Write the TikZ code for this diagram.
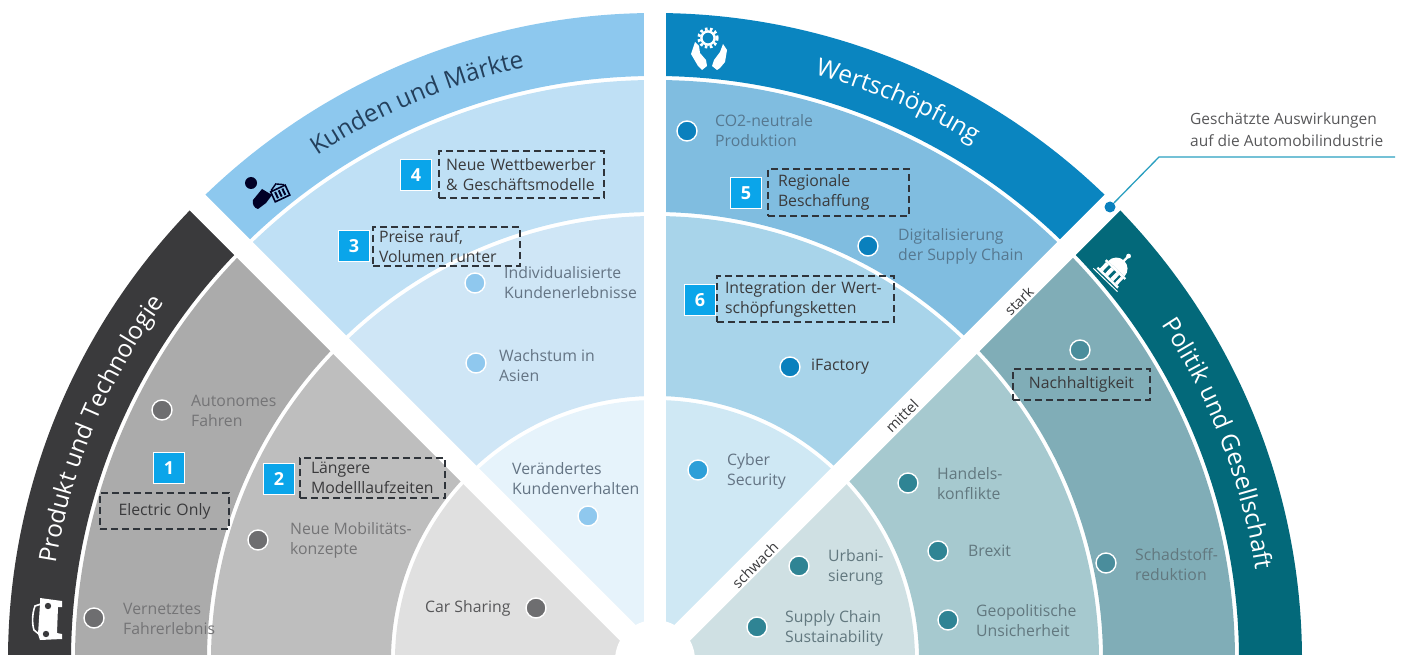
\documentclass[tikz,border=0pt]{standalone}
\usepackage{fontspec}
\setmainfont{Open Sans}
\usetikzlibrary{decorations.text}
\definecolor{bandA}{HTML}{3A3A3C}\definecolor{ringA1}{HTML}{ABABAB}\definecolor{ringA2}{HTML}{BEBEBE}\definecolor{ringA3}{HTML}{E0E0E0}
\definecolor{bandB}{HTML}{8DC8EE}\definecolor{ringB1}{HTML}{BFE0F5}\definecolor{ringB2}{HTML}{CFE6F6}\definecolor{ringB3}{HTML}{E6F3FB}
\definecolor{bandC}{HTML}{0A85C0}\definecolor{ringC1}{HTML}{80BDE0}\definecolor{ringC2}{HTML}{A8D4EA}\definecolor{ringC3}{HTML}{CFE8F4}
\definecolor{bandD}{HTML}{03697A}\definecolor{ringD1}{HTML}{80ADB7}\definecolor{ringD2}{HTML}{A6C9CF}\definecolor{ringD3}{HTML}{CFE0E3}
\definecolor{numblue}{HTML}{0AA5EA}\definecolor{boxline}{HTML}{2F343A}
\definecolor{txtA}{HTML}{747476}\definecolor{txtB}{HTML}{647484}\definecolor{txtC}{HTML}{567890}\definecolor{txtD}{HTML}{62787F}
\definecolor{dotA}{HTML}{6E6E70}\definecolor{dotB}{HTML}{8FC8EE}\definecolor{dotC}{HTML}{0A80BD}\definecolor{dotCy}{HTML}{2D9FD8}\definecolor{dotD}{HTML}{2F8494}\definecolor{dotE}{HTML}{4A8D9C}
\definecolor{calloutc}{HTML}{2A9FC0}\definecolor{titleB}{HTML}{24405C}
\newcommand{\widesector}[5]{%
  \fill[#5] (#1:#3) arc[start angle=#1,end angle=#2,radius=#3] -- (#2:#4) arc[start angle=#2,end angle=#1,radius=#4] -- cycle;}
\tikzset{
  lbl/.style={anchor=west,inner sep=0pt,align=left,font=\fontsize{15.8}{20}\selectfont,text=#1},
  dotn/.style={circle,fill=#1,draw=white,line width=1.4pt,minimum size=20pt,inner sep=0pt},
  numbox/.style={fill=numblue,draw=white,line width=1pt,minimum size=31pt,inner sep=0pt,text=white,font=\fontsize{18}{20}\bfseries\selectfont},
  dbox/.style n args={3}{draw=boxline,dash pattern=on 7pt off 4pt,line width=1.8pt,text width=#1pt,minimum height=#2pt,inner xsep=#3pt,inner ysep=0pt,align=left,text=bandA,font=\fontsize{15.8}{20}\selectfont},
  gaplbl/.style={rotate=45,inner sep=0pt,text=bandA,font=\fontsize{14.5}{16}\selectfont},
  titlepath/.style={postaction={decorate},decoration={text along path,text align=center,text={|\fontsize{24.4}{25}\selectfont\color{#1}|\titletext}}}
}
\begin{document}
\begin{tikzpicture}[x=1pt,y=-1pt]
\useasboundingbox (0,0) rectangle (1403,655);
\clip (0,0) rectangle (1403,655);
\begin{scope}[shift={(655,660)}]
  \widesector{170}{225}{647}{584}{bandA}
  \widesector{170}{225}{580}{448}{ringA1}
  \widesector{170}{225}{444}{264}{ringA2}
  \widesector{170}{225}{260}{30}{ringA3}
  \widesector{225}{270}{647}{584}{bandB}
  \widesector{225}{270}{580}{448}{ringB1}
  \widesector{225}{270}{444}{264}{ringB2}
  \widesector{225}{270}{260}{30}{ringB3}
  \widesector{270}{315}{647}{584}{bandC}
  \widesector{270}{315}{580}{448}{ringC1}
  \widesector{270}{315}{444}{264}{ringC2}
  \widesector{270}{315}{260}{30}{ringC3}
  \widesector{315}{370}{647}{584}{bandD}
  \widesector{315}{370}{580}{448}{ringD1}
  \widesector{315}{370}{444}{264}{ringD2}
  \widesector{315}{370}{260}{30}{ringD3}
  \draw[white,line width=22pt] (0,0) -- (225:700);
  \draw[white,line width=22pt] (0,0) -- (270:700);
  \draw[white,line width=22pt] (0,0) -- (315:700);
  \fill[white] (0,0) circle[radius=40];
  % titles
  \def\titletext{Produkt und Technologie}
  \path[titlepath=white] (172.1:607) arc[start angle=172.1,end angle=233.1,radius=607];
  \def\titletext{Kunden und Märkte}
  \path[titlepath=titleB] (216.4:607) arc[start angle=216.4,end angle=277.4,radius=607];
  \def\titletext{Wertschöpfung}
  \path[titlepath=white] (263:607) arc[start angle=263,end angle=324,radius=607];
  \def\titletext{Politik und Gesellschaft}
  \path[titlepath=white] (308:607) arc[start angle=308,end angle=370,radius=607];
\end{scope}

% Produkt und Technologie
\node[dotn=dotA] (d1) at (162,410) {};
\node[lbl=txtA] (t1) at (191,411) {Autonomes\\Fahren};
\node[numbox] (n1) at (169,468) {1};
\node[dbox={97}{36}{16},align=center] (b1) at (164.5,511) {Electric Only};
\node[numbox] (n2) at (279,479) {2};
\node[dbox={123}{40}{11}] (b2) at (372.5,478) {Längere\\Modelllaufzeiten};
\node[dotn=dotA] (d2) at (258,540) {};
\node[lbl=txtA] (t2) at (290,540) {Neue Mobilitäts-\\konzepte};
\node[dotn=dotA] (d3) at (94,618) {};
\node[lbl=txtA] (t3) at (123,619) {Vernetztes\\Fahrerlebnis};
\node[dotn=dotA] (d4) at (536,608) {};
\node[lbl=bandA!85] (t4) at (425,608) {Car Sharing};

% Kunden und Maerkte
\node[numbox] (n4) at (416,175) {4};
\node[dbox={151}{47}{7}] (b4) at (521.5,174.5) {Neue Wettbewerber\\\& Geschäftsmodelle};
\node[numbox] (n3) at (354,246) {3};
\node[dbox={135}{39}{6}] (b3) at (446.5,246.5) {Preise rauf,\\Volumen runter};
\node[dotn=dotB] (d5) at (475,283) {};
\node[lbl=txtB] (t5) at (504,283) {Individualisierte\\Kundenerlebnisse};
\node[dotn=dotB] (d6) at (476,363) {};
\node[lbl=txtB] (t6) at (499,366) {Wachstum in\\Asien};
\node[lbl=txtB] (t7) at (512,479) {Verändertes\\Kundenverhalten};
\node[dotn=dotB] (d7) at (588,516) {};

% Wertschoepfung
\node[dotn=dotC] (d8) at (687,131) {};
\node[lbl=txtC] (t8) at (715,131) {CO2-neutrale\\Produktion};
\node[numbox] (n5) at (746,193) {5};
\node[dbox={121}{47}{10}] (b5) at (838.5,192.5) {Regionale\\Beschaffung};
\node[dotn=dotC] (d9) at (868,246) {};
\node[lbl=txtC] (t9) at (898,246) {Digitalisierung\\der Supply Chain};
\node[numbox] (n6) at (700,300) {6};
\node[dbox={161}{46}{8}] (b6) at (805.5,299) {Integration der Wert-\\schöpfungsketten};
\node[dotn=dotC] (d10) at (790,367) {};
\node[lbl=bandA] (t10) at (811,367) {iFactory};
\node[dotn=dotCy] (d11) at (698,470) {};
\node[lbl=txtB] (t11) at (727,471) {Cyber\\Security};

% Politik und Gesellschaft
\node[dotn=dotE] (d12) at (1080,350) {};
\node[dbox={117}{31}{10},align=center] (b12) at (1081.5,384.5) {Nachhaltigkeit};
\node[dotn=dotD] (d13) at (908,483) {};
\node[lbl=txtD] (t13) at (937,484) {Handels-\\konflikte};
\node[dotn=dotD] (d14) at (938,551) {};
\node[lbl=txtD] (t14) at (968,551) {Brexit};
\node[dotn=dotD] (d15) at (948,620) {};
\node[lbl=txtD] (t15) at (976,621) {Geopolitische\\Unsicherheit};
\node[dotn=dotE] (d16) at (1106,563) {};
\node[lbl=txtD] (t16) at (1135,565) {Schadstoff-\\reduktion};
\node[dotn=dotD] (d17) at (799,566) {};
\node[lbl=txtD] (t17) at (828,567) {Urbani-\\sierung};
\node[dotn=dotD] (d18) at (757,627) {};
\node[lbl=txtD] (t18) at (785,628) {Supply Chain\\Sustainability};

% gap labels
\node[gaplbl] (g1) at (1019,301) {stark};
\node[gaplbl] (g2) at (902,416) {mittel};
\node[gaplbl] (g3) at (755,565) {schwach};

% callout
\node[circle,fill=dotC,inner sep=0pt,minimum size=11pt] (cdot) at (1110,207) {};
\coordinate (cbend) at (1159,157);
\coordinate (cend) at (1395,157);
\draw[calloutc,line width=1.3pt] (cdot) -- (cbend) -- (cend);
\node[anchor=west,inner sep=0pt,align=left,text=bandA!85,font=\fontsize{15.5}{22}\selectfont] (ct) at (1190,130) {Geschätzte Auswirkungen\\auf die Automobilindustrie};

% icon: car
\begin{scope}[shift={(48,620)}]
  \fill[white] (-8,-22) -- (14,-19) -- (14,-13) -- (10,-13) -- (9,13) -- (14,14) -- (14,19) -- (-8,20) -- (-10,14) -- (-8,-16) -- cycle;
  \draw[white,line width=1.6pt] (-7,-16) -- (-13,-14) .. controls (-16,-6) and (-16,4) .. (-14,10) -- (-8,15);
  \fill[bandA] (0,-14) circle[radius=3.2] (-2,14) circle[radius=3.2];
\end{scope}

% icon: person with basket
\fill[black!85!blue] (251,183) circle[radius=6];
\fill[black!85!blue] (253,200) -- (262,189) -- (272,195) -- (266,203) -- (258,209) .. controls (254,208) and (252,204) .. (253,200) -- cycle;
\begin{scope}[shift={(280,193)},rotate=25]
  \draw[black!85!blue,line width=1.6pt,fill=bandB] (-8,-5) rectangle (8,6);
  \draw[black!85!blue,line width=2pt] (-4,-3) -- (-4,4) (0,-3) -- (0,4) (4,-3) -- (4,4);
  \draw[black!85!blue,line width=1.4pt] (-7,-6) -- (0,-10) -- (7,-6);
\end{scope}

% icon: hands and gear
\begin{scope}[shift={(708,38)}]
  \draw[white,line width=3pt,dash pattern=on 2.6pt off 2.4pt] (0,0) circle[radius=9.2];
  \draw[white,line width=2.4pt] (0,0) circle[radius=6.6];
  \fill[white] (-13,4) -- (-17,16) -- (-10,28) -- (-6,32) -- (-1,28) -- (-2,22) -- (-8,15) -- (-9,8) -- cycle;
  \fill[white] (15,6) -- (19,12) -- (17,24) -- (12,30) -- (9,32) -- (4,28) -- (6,22) -- (12,14) -- cycle;
\end{scope}

% icon: building
\begin{scope}[shift={(1118,267)},rotate=-44,scale=0.8]
  \fill[white] (-14,3) arc[start angle=180,end angle=360,radius=14] -- cycle;
  \fill[white] (-1.5,-10) rectangle (1.5,-17);
  \fill[white] (0,-19) circle[radius=3];
  \fill[white] (-17,3) rectangle (17,6);
  \fill[white] (-15,6) rectangle (-10,17) (-6,6) rectangle (-1,17) (3,6) rectangle (8,17) (11,6) rectangle (15,17);
  \fill[white] (-18,17) rectangle (18,20);
  \fill[white] (-21,22) rectangle (21,23.2);
\end{scope}
\end{tikzpicture}
\end{document}
